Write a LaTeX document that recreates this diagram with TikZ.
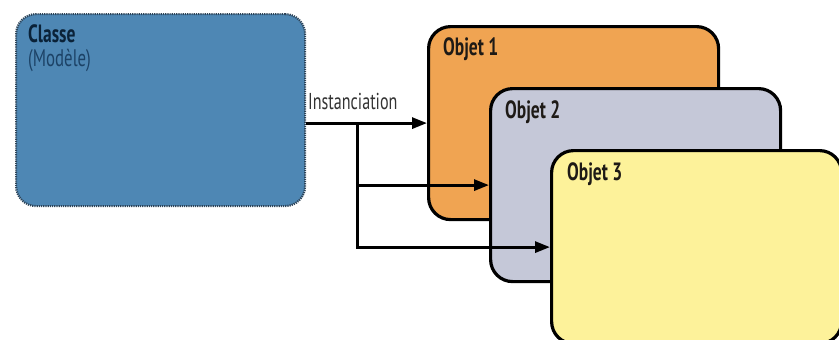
\documentclass[tikz,border=0pt]{standalone}
\usepackage{fontspec}
\setmainfont{PT Sans}[FakeStretch=0.7]
\usetikzlibrary{arrows.meta,calc}
\definecolor{classefill}{HTML}{4E87B4}
\definecolor{classeedge}{HTML}{2E4458}
\definecolor{obja}{HTML}{F0A452}
\definecolor{objb}{HTML}{C5C8D8}
\definecolor{objc}{HTML}{FDF29A}
\definecolor{txtdark}{HTML}{1E1A16}
\definecolor{txtnavy}{HTML}{0A2238}
\definecolor{txtblue}{HTML}{1C4266}
\begin{document}
\begin{tikzpicture}[x=1pt,y=-1pt,
  box/.style={rectangle,rounded corners=22pt,anchor=north west,
    minimum width=290pt,minimum height=193pt,inner sep=0pt},
  objbox/.style={box,draw=black,line width=3.2pt},
  classebox/.style={box,draw=classeedge,line width=2.2pt,dash pattern=on 1.2pt off 1pt,fill=classefill,rounded corners=20pt},
  ttl/.style={anchor=base west,inner sep=0pt,font=\fontsize{25}{28}\selectfont\bfseries,text=txtdark},
  sub/.style={anchor=base west,inner sep=0pt,font=\fontsize{24}{28}\selectfont,text=txtblue},
  arr/.style={line width=3pt,-{Triangle[length=15pt,width=11pt]}}]
\useasboundingbox (0,0) rectangle (839,340);
\node[classebox,minimum width=289pt,minimum height=192pt] (classe) at (15,13) {};
\node[ttl,text=txtnavy] (classet) at ($(classe.north west)+(13,29)$) {Classe};
\node[sub] (modele) at ($(classe.north west)+(13,53)$) {(Modèle)};
\node[objbox,fill=obja] (o1) at (427,25) {};
\node[ttl] (o1t) at ($(o1.north west)+(16,30)$) {Objet 1};
\coordinate (br) at (357,0);
\draw[arr] (classe.east |- o1.west) -- (o1.west);
\node[anchor=base west,inner sep=0pt,font=\fontsize{23}{26}\selectfont,text=black!80] (inst) at (308,109) {Instanciation};
\coordinate (bt) at (br |- o1.west);
\node[objbox,fill=objb] (o2) at (489,87) {};
\node[ttl] (o2t) at ($(o2.north west)+(16,31)$) {Objet 2};
\draw[arr] (bt) |- (o2.west);
\node[objbox,fill=objc] (o3) at (550,149) {};
\node[ttl] (o3t) at ($(o3.north west)+(17,31)$) {Objet 3};
\draw[arr] (bt) |- (o3.west);
\end{tikzpicture}
\end{document}
